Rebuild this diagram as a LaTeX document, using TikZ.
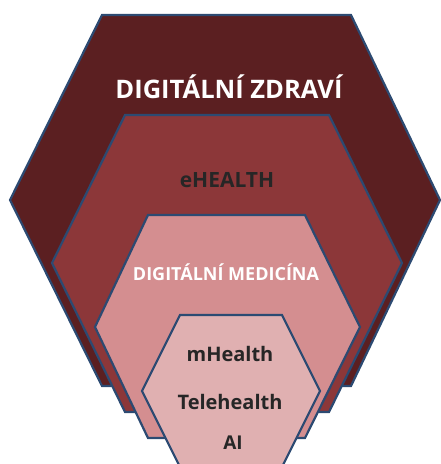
\documentclass[tikz,border=0pt]{standalone}
\usepackage{fontspec}
\setmainfont{Open Sans}
\usetikzlibrary{positioning}

\definecolor{hexedge}{HTML}{2C4A72}
\definecolor{zdravicol}{HTML}{5B1F21}
\definecolor{ehealthcol}{HTML}{8C3739}
\definecolor{medicinacol}{HTML}{D48E90}
\definecolor{innercol}{HTML}{E0B0B1}
\definecolor{darktext}{HTML}{262626}

\tikzset{
  hexa/.style={draw=hexedge, line width=2.2pt, line join=miter},
  label/.style={inner sep=0pt}
}

\begin{document}
\begin{tikzpicture}[x=1pt, y=-1pt]
    \useasboundingbox (0,0) rectangle (441,464);
    \clip (0,0) rectangle (441,464);

    % left, top left, top right, right, top, middle, bottom, fill
    \foreach \l/\tl/\tr/\r/\t/\m/\b/\col in {
        10/102/351/440/15/200/386/zdravicol,
        52/125/329/402/115/263/412/ehealthcol,
        95/148/305/360/215/327/438/medicinacol,
        142/180/282/320/315/391/467/innercol}
    {
      \draw[hexa, fill=\col] (\l,\m) -- (\tl,\t) -- (\tr,\t) -- (\r,\m)
        -- (\tr,\b) -- (\tl,\b) -- cycle;
    }

    \node[label, white, font=\bfseries\fontsize{25.5}{30}\selectfont] (zdravi) at (229,87) {DIGITÁLNÍ ZDRAVÍ};
    \node[label, darktext, font=\bfseries\fontsize{21}{26}\selectfont] (ehealth) at (227,180) {eHEALTH};
    \node[label, white, font=\bfseries\fontsize{18}{22}\selectfont] (medicina) at (226,272) {DIGITÁLNÍ MEDICÍNA};
    \node[label, darktext, font=\bfseries\fontsize{20}{24}\selectfont] (mhealth) at (230,354) {mHealth};
    \node[label, darktext, font=\bfseries\fontsize{20}{24}\selectfont] (telehealth) at (230,402) {Telehealth};
    \node[label, darktext, font=\bfseries\fontsize{19}{23}\selectfont] (ai) at (233,443) {AI};
\end{tikzpicture}
\end{document}
